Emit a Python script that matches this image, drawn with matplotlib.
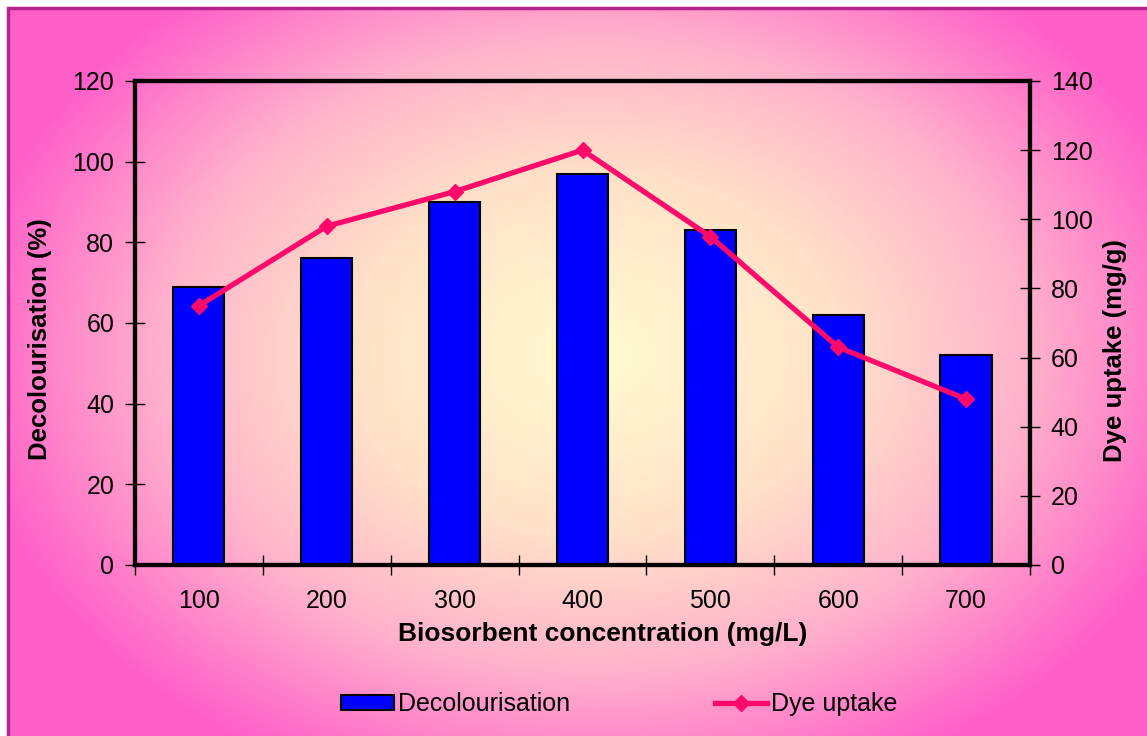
import numpy as np
import matplotlib.pyplot as plt
from matplotlib.patches import Rectangle
from matplotlib.colors import LinearSegmentedColormap
from matplotlib.lines import Line2D

plt.rcParams['font.family'] = ['Liberation Sans', 'DejaVu Sans']

concentration = ['100', '200', '300', '400', '500', '600', '700']
decolourisation = [69, 76, 90, 97, 83, 62, 52]
dye_uptake = [75, 98, 108, 120, 95, 63, 48]

W, H = 1147, 736
fig = plt.figure(figsize=(W / 100, H / 100), dpi=100)
fig.patch.set_facecolor('white')

# radial gradient background (pale yellow centre -> pink edges)
bg = fig.add_axes([8 / W, 0, 1 - 8 / W, 1 - 8 / H], zorder=-10)
yy, xx = np.mgrid[0:H, 0:W]
cx, cy = 590, 350
r = np.sqrt(((xx - cx) / 640.0) ** 2 + ((yy - cy) / 470.0) ** 2)
r = np.clip(r, 0, 1)
cmap = LinearSegmentedColormap.from_list(
    'bg', [(0, '#fffbd0'), (0.38, '#ffe2c8'), (0.68, '#ffb2cc'), (1, '#ff5ec8')])
bg.imshow(r, cmap=cmap, aspect='auto', extent=[0, 1, 0, 1], origin='upper')
bg.set_axis_off()
# border only shows on top and left (chart is cropped on the other sides)
fig.patches.append(Rectangle((8 / W, -0.1), 1.2, 1.1 - 8 / H, transform=fig.transFigure,
                             fill=False, edgecolor='#b5238f', linewidth=2.5, zorder=5))

ax = fig.add_axes([135 / W, 1 - 565 / H, (1030 - 135) / W, (565 - 81) / H])
ax.patch.set_alpha(0)
x = np.arange(len(concentration))
ax.bar(x, decolourisation, width=0.4, color='#0000ff', edgecolor='black', linewidth=1.5, zorder=2)
ax.set_xlim(-0.5, len(concentration) - 0.5)
ax.set_ylim(0, 120)
ax.set_yticks(range(0, 121, 20))
ax.set_xticks(x)
ax.set_xticklabels(concentration)
ax.set_xticks(np.arange(-0.5, len(concentration), 1), minor=True)
ax.tick_params(axis='x', which='major', length=0, labelsize=18, pad=17)
ax.tick_params(axis='x', which='minor', direction='inout', length=14, width=1)
ax.tick_params(axis='y', direction='inout', length=14, width=1, labelsize=18, pad=8)
for s in ax.spines.values():
    s.set_linewidth(3)
ax.set_xlabel('Biosorbent concentration (mg/L)', fontsize=19, fontweight='bold')
ax.xaxis.set_label_coords(0.522, -0.118)
ax.set_ylabel('Decolourisation (%)', fontsize=18.5, fontweight='bold')
ax.yaxis.set_label_coords(-0.093, 0.467)

ax2 = ax.twinx()
ax2.plot(x, dye_uptake, color='#ff0a6a', linewidth=3.8, marker='D', markersize=8, zorder=3)
ax2.set_ylim(0, 140)
ax2.set_yticks(range(0, 141, 20))
ax2.tick_params(axis='y', direction='inout', length=14, width=1, labelsize=18, pad=8)
for s in ax2.spines.values():
    s.set_linewidth(3)
ax2.set_ylabel('Dye uptake (mg/g)', fontsize=18.5, fontweight='bold')
ax2.yaxis.set_label_coords(1.0816, 0.444)

handles = [Rectangle((0, 0), 1, 1, facecolor='#0000ff', edgecolor='black', linewidth=1.5),
           Line2D([], [], color='#ff0a6a', linewidth=3.8, marker='D', markersize=8)]
fig.legend(handles, ['Decolourisation', 'Dye uptake'], loc='center', bbox_to_anchor=(0.54, 1 - 704 / H),
           ncol=2, frameon=False, fontsize=18, handlelength=2.1, handleheight=0.55,
           handletextpad=0.15, columnspacing=5.8)

fig.savefig('out.png', dpi=100)
